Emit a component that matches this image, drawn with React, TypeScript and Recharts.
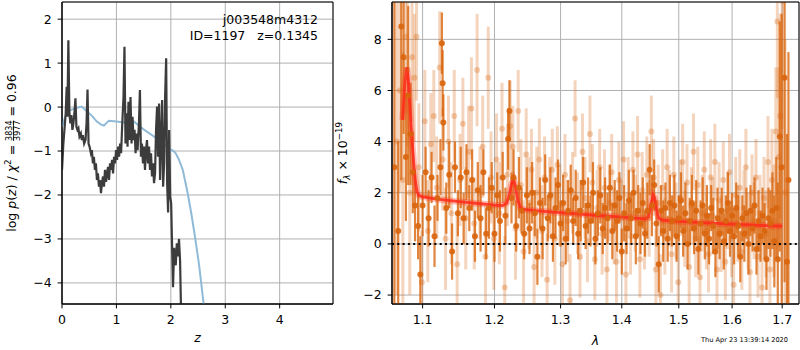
import React from 'react';
import {
  ComposedChart,
  Line,
  Scatter,
  ErrorBar,
  XAxis,
  YAxis,
  CartesianGrid,
  ReferenceLine,
  ReferenceArea,
} from 'recharts';

const FONT = '"DejaVu Sans", sans-serif';

// left panel: log p(z) curves, [z, value]
const pzCurve: [number, number][] = [
  [0.0, -1.43], [0.025, -0.83], [0.049, -0.45], [0.068, -0.14], [0.086, 0.46], [0.099, -0.22],
  [0.117, 1.52], [0.136, -0.14], [0.154, -0.37], [0.173, -0.18], [0.191, -0.52], [0.21, -0.37],
  [0.228, -0.14], [0.247, 0.2], [0.265, -0.45], [0.284, -0.52], [0.302, -0.48], [0.321, -0.67],
  [0.346, -0.6], [0.364, -0.75], [0.383, -0.64], [0.407, -0.83], [0.432, -0.75], [0.451, -0.37],
  [0.469, 0.4], [0.488, -0.83], [0.506, -0.9], [0.531, -1.05], [0.549, -0.98], [0.568, -1.28],
  [0.586, -1.13], [0.605, -1.43], [0.623, -1.28], [0.642, -1.66], [0.66, -1.51], [0.679, -1.81],
  [0.698, -1.66], [0.716, -1.96], [0.735, -1.73], [0.753, -1.58], [0.772, -1.81], [0.79, -1.43],
  [0.809, -1.7], [0.827, -1.51], [0.846, -1.36], [0.864, -1.66], [0.883, -1.28], [0.901, -1.43],
  [0.92, -1.2], [0.938, -1.51], [0.957, -1.13], [0.975, -1.28], [0.994, -0.98], [1.012, -1.2],
  [1.031, -0.9], [1.049, -1.13], [1.068, -0.83], [1.086, -1.05], [1.105, -0.45], [1.13, 0.23],
  [1.148, 1.37], [1.167, -0.83], [1.185, -0.14], [1.204, -0.9], [1.222, 0.12], [1.241, -0.75],
  [1.259, 0.23], [1.278, -0.83], [1.296, -0.22], [1.315, -0.75], [1.333, -0.52], [1.352, -1.05],
  [1.37, -0.6], [1.389, -0.98], [1.414, -0.37], [1.432, 0.39], [1.451, -1.13], [1.469, -0.83],
  [1.488, -1.28], [1.506, -0.9], [1.525, -1.43], [1.543, -0.98], [1.562, -0.75], [1.58, -1.28],
  [1.599, -0.9], [1.617, -1.43], [1.636, -1.05], [1.654, -1.58], [1.673, -1.28], [1.691, -1.73],
  [1.71, -1.51], [1.728, -0.52], [1.747, 0.01], [1.765, -1.13], [1.784, 0.08], [1.802, -1.66],
  [1.821, -0.75], [1.84, 0.16], [1.858, -1.81], [1.877, -1.28], [1.895, 0.23], [1.914, 1.11],
  [1.932, -1.73], [1.95, -2.4], [1.969, -0.52], [1.988, -2.04], [2.006, -2.19], [2.02, -3.0],
  [2.04, -4.1], [2.06, -3.2], [2.09, -3.6], [2.11, -3.1], [2.13, -3.4], [2.15, -3.0],
  [2.17, -3.5], [2.19, -4.8], [2.21, -5.5],
];

const pzPrior: [number, number][] = [
  [0.0, -0.45], [0.05, -0.25], [0.1, -0.12], [0.15, -0.07], [0.25, -0.03], [0.36, 0.01],
  [0.46, -0.1], [0.55, -0.2], [0.64, -0.33], [0.72, -0.4], [0.77, -0.42], [0.82, -0.36],
  [0.86, -0.31], [1.0, -0.33], [1.14, -0.35], [1.22, -0.31], [1.29, -0.3], [1.36, -0.37],
  [1.44, -0.45], [1.56, -0.56], [1.69, -0.67], [1.8, -0.78], [1.88, -0.86], [1.98, -0.95],
  [2.05, -1.0], [2.09, -1.05], [2.15, -1.2], [2.22, -1.43], [2.31, -1.96], [2.38, -2.45],
  [2.45, -3.0], [2.52, -3.6], [2.6, -4.45], [2.65, -5.0],
];

const zTicks = [0, 1, 2, 3, 4];
const pzTicks = [-4, -3, -2, -1, 0, 1, 2];

// right panel: spectrum points [lambda, flux, err]
const darkPoints: [number, number, number][] = [
  [1.063, 3.0, 6.5], [1.068, 0.5, 3.5], [1.072, 8.5, 6], [1.075, 7.3, 3], [1.078, 3.4, 2.5],
  [1.081, 5.8, 3.5], [1.084, 4.3, 2], [1.087, 2.8, 1.6], [1.09, 1.5, 1.4], [1.094, 0.7, 1.3],
  [1.097, -1.2, 1.5], [1.1, 1.5, 1.2], [1.104, 2.8, 1.0], [1.108, 1.0, 1.1], [1.112, 2.6, 1.0],
  [1.116, 0.3, 1.2], [1.12, 1.8, 0.9], [1.124, 3.0, 1.1], [1.126, 7.85, 1.2], [1.127, 6.28, 1.3],
  [1.128, 4.75, 1.1], [1.132, 1.4, 1.0], [1.136, 2.7, 1.3], [1.14, -0.3, 1.1], [1.144, 3.0, 1.0],
  [1.148, 1.2, 0.9], [1.152, 2.6, 1.2], [1.156, 1.0, 1.0], [1.16, 2.8, 1.1], [1.164, 1.4, 0.9],
  [1.168, 2.5, 1.2], [1.172, 0.3, 1.0], [1.176, 2.1, 1.1], [1.18, 1.0, 1.3], [1.184, 2.8, 0.9],
  [1.188, 0.4, 1.0], [1.192, 1.4, 1.2], [1.196, 2.2, 1.0], [1.2, 0.4, 1.1], [1.204, 1.9, 0.9],
  [1.208, 0.9, 1.2], [1.212, 2.6, 1.0], [1.216, 1.1, 1.1], [1.22, 4.1, 1.2], [1.222, 5.2, 1.2],
  [1.225, 1.8, 1.0], [1.228, 2.6, 1.1], [1.232, 0.7, 1.0], [1.236, 2.2, 1.2], [1.24, 1.3, 0.9],
  [1.244, 0.4, 1.0], [1.248, 1.9, 1.1], [1.252, 0.6, 1.0], [1.256, 2.0, 1.2], [1.26, 1.2, 0.9],
  [1.264, -0.5, 1.1], [1.268, 1.6, 1.0], [1.272, 0.6, 1.2], [1.276, 2.5, 1.0], [1.28, 1.0, 0.9],
  [1.284, 1.9, 1.1], [1.288, 0.3, 1.0], [1.292, 1.4, 1.2], [1.296, 2.3, 1.0], [1.3, 0.8, 0.9],
  [1.304, 1.6, 1.1], [1.308, 0.2, 1.0], [1.312, 1.3, 1.2], [1.316, 2.1, 1.0], [1.32, 0.9, 0.9],
  [1.324, 1.8, 1.1], [1.328, 0.4, 1.0], [1.332, 1.3, 1.2], [1.336, 2.4, 1.0], [1.34, 0.7, 0.9],
  [1.344, 1.5, 1.1], [1.348, 0.9, 1.0], [1.352, 2.0, 1.2], [1.356, 0.2, 1.0], [1.36, 1.2, 0.9],
  [1.364, 1.9, 1.1], [1.368, 0.6, 1.0], [1.372, 1.4, 1.2], [1.376, 1.0, 1.0], [1.38, 2.2, 0.9],
  [1.384, 0.5, 1.1], [1.388, 1.5, 1.0], [1.392, 0.9, 1.2], [1.396, 1.8, 1.0], [1.4, -0.3, 0.9],
  [1.404, 1.2, 1.1], [1.408, 0.6, 1.0], [1.412, 1.7, 1.2], [1.416, 1.0, 1.0], [1.42, 2.0, 0.9],
  [1.424, 0.3, 1.1], [1.428, 1.3, 1.0], [1.432, 0.8, 1.2], [1.436, 1.6, 1.0], [1.44, 0.4, 0.9],
  [1.444, 1.3, 1.1], [1.448, 2.9, 1.0], [1.452, 1.5, 1.2], [1.456, 2.3, 1.0], [1.46, 0.8, 0.9],
  [1.464, -0.8, 1.1], [1.468, 1.3, 1.0], [1.472, 0.5, 1.2], [1.476, 1.4, 1.0], [1.48, 0.2, 0.9],
  [1.484, 1.6, 1.1], [1.488, 0.9, 1.0], [1.492, 1.5, 1.2], [1.496, 0.3, 1.0], [1.5, 1.0, 0.9],
  [1.504, 1.7, 1.1], [1.508, 0.5, 1.0], [1.512, 1.2, 1.2], [1.516, 0.0, 1.0], [1.52, 0.9, 0.9],
  [1.524, 1.6, 1.1], [1.528, 0.6, 1.0], [1.532, 1.3, 1.2], [1.536, -0.2, 1.0], [1.54, 0.8, 0.9],
  [1.544, 1.5, 1.1], [1.548, 0.4, 1.0], [1.552, 1.1, 1.2], [1.556, 0.2, 1.0], [1.56, 1.4, 0.9],
  [1.564, 0.7, 1.1], [1.568, -0.3, 1.0], [1.572, 1.0, 1.2], [1.576, 0.4, 1.0], [1.58, 1.3, 0.9],
  [1.584, 0.1, 1.1], [1.588, 0.9, 1.0], [1.592, 1.6, 1.2], [1.596, 0.5, 1.0], [1.6, 1.1, 0.9],
  [1.604, 0.3, 1.1], [1.608, 1.4, 1.0], [1.612, 0.7, 1.2], [1.616, -0.5, 1.0], [1.62, 1.0, 0.9],
  [1.624, 0.4, 1.1], [1.628, 1.2, 1.0], [1.632, 0.0, 1.2], [1.636, 1.3, 1.0], [1.64, 0.6, 0.9],
  [1.644, 1.5, 1.1], [1.648, -0.2, 1.0], [1.652, 0.9, 1.2], [1.656, 0.3, 1.0], [1.66, 1.1, 1.1],
  [1.664, 0.5, 1.1], [1.668, -0.6, 1.2], [1.672, 1.0, 1.2], [1.676, 0.8, 1.3], [1.68, 1.3, 1.5],
  [1.684, 0.1, 1.8], [1.688, 1.4, 2.0], [1.691, -0.6, 3.0], [1.695, 4.2, 4.5], [1.699, 3.0, 6.0],
  [1.705, 6.5, 8.0], [1.71, -0.7, 5.0], [1.713, 2.5, 5.0],
];

const lightPoints: [number, number, number][] = [
  [1.066, 4.0, 6], [1.07, 6.0, 4], [1.074, 2.5, 5], [1.078, 8.1, 3], [1.08, 6.8, 3],
  [1.083, 2.0, 4], [1.086, 7.3, 2.5], [1.089, 6.5, 2.5], [1.092, 8.1, 2.5], [1.095, 3.0, 2.5],
  [1.099, -1.5, 2], [1.103, 4.8, 2], [1.107, 0.5, 2], [1.111, 3.9, 2], [1.115, 5.0, 1.8],
  [1.119, 2.2, 2], [1.123, 6.9, 2.2], [1.127, 3.3, 2], [1.131, 0.2, 2], [1.135, 4.0, 1.8],
  [1.139, 1.2, 2], [1.143, 5.0, 1.8], [1.147, -0.8, 2], [1.151, 2.5, 1.8], [1.155, 4.7, 1.8],
  [1.159, 1.0, 2], [1.163, 3.6, 1.8], [1.167, 5.3, 2], [1.171, 0.8, 1.8], [1.175, 6.8, 2.2],
  [1.179, 2.0, 1.8], [1.183, 3.8, 2], [1.187, -0.5, 2], [1.191, 6.5, 2], [1.195, 2.6, 1.8],
  [1.199, 0.2, 2], [1.203, 3.3, 1.8], [1.207, 1.2, 2], [1.211, 4.5, 1.8], [1.215, -1.7, 2],
  [1.219, 2.7, 2], [1.223, 4.6, 1.8], [1.227, 3.8, 1.6], [1.231, 0.6, 2], [1.235, 5.2, 1.6],
  [1.239, 2.3, 1.8], [1.243, -0.3, 2], [1.247, 3.5, 1.8], [1.251, 1.6, 1.8], [1.255, 2.9, 1.6],
  [1.259, -0.9, 1.8], [1.263, 2.0, 1.8], [1.267, 3.3, 1.6], [1.271, 0.5, 1.8], [1.275, 2.6, 1.6],
  [1.279, -1.4, 1.8], [1.283, 1.8, 1.6], [1.287, 2.9, 1.6], [1.291, 0.2, 1.8], [1.295, 3.1, 1.5],
  [1.299, 1.5, 1.6], [1.303, -0.8, 1.8], [1.307, 2.7, 1.6], [1.311, 0.9, 1.6], [1.315, -2.2, 1.8],
  [1.319, 2.0, 1.6], [1.323, 4.9, 1.5], [1.327, 1.2, 1.6], [1.331, -0.5, 1.6], [1.335, 3.6, 1.5],
  [1.339, 1.8, 1.6], [1.343, 0.1, 1.6], [1.347, 4.3, 1.5], [1.351, 2.4, 1.5], [1.355, -0.6, 1.6],
  [1.359, 1.4, 1.5], [1.363, 3.0, 1.5], [1.367, 0.4, 1.6], [1.371, 2.2, 1.5], [1.375, -1.0, 1.6],
  [1.379, 1.6, 1.5], [1.383, 2.8, 1.5], [1.387, 0.7, 1.5], [1.391, -0.7, 1.6], [1.395, 2.5, 1.5],
  [1.399, 1.0, 1.5], [1.403, 3.3, 1.5], [1.407, -1.2, 1.6], [1.411, 1.9, 1.5], [1.415, 0.3, 1.5],
  [1.419, 2.9, 1.5], [1.423, 1.2, 1.5], [1.427, 3.5, 1.5], [1.431, -0.6, 1.5], [1.435, 2.1, 1.5],
  [1.439, 0.5, 1.5], [1.443, 2.7, 1.5], [1.447, 1.0, 1.5], [1.451, 4.4, 1.4], [1.455, 2.6, 1.5],
  [1.459, -1.0, 1.6], [1.463, 1.6, 1.5], [1.467, -2.0, 1.6], [1.471, 2.2, 1.5], [1.475, 0.3, 1.5],
  [1.479, 3.0, 1.5], [1.483, 1.4, 1.5], [1.487, -0.4, 1.5], [1.491, 2.7, 1.5], [1.495, 0.9, 1.5],
  [1.499, -1.5, 1.6], [1.503, 1.8, 1.5], [1.507, 3.2, 1.5], [1.511, 0.6, 1.5], [1.515, 2.4, 1.5],
  [1.519, -0.9, 1.5], [1.523, 1.5, 1.5], [1.527, 3.6, 1.5], [1.531, 0.2, 1.5], [1.535, 2.3, 1.5],
  [1.539, -1.3, 1.6], [1.543, 1.2, 1.5], [1.547, 2.9, 1.5], [1.551, 0.5, 1.5], [1.555, -0.4, 1.5],
  [1.559, 2.6, 1.5], [1.563, 1.1, 1.5], [1.567, 3.2, 1.5], [1.571, -1.0, 1.6], [1.575, 1.7, 1.5],
  [1.579, 0.4, 1.5], [1.583, 2.5, 1.5], [1.587, -0.7, 1.5], [1.591, 1.3, 1.5], [1.595, 2.8, 1.5],
  [1.599, 0.2, 1.5], [1.603, -1.6, 1.6], [1.607, 1.9, 1.5], [1.611, 0.8, 1.5], [1.615, 2.2, 1.5],
  [1.619, -0.3, 1.5], [1.623, 1.4, 1.5], [1.627, 3.0, 1.5], [1.631, 0.5, 1.5], [1.635, -1.1, 1.6],
  [1.639, 2.0, 1.5], [1.643, 0.9, 1.5], [1.647, 2.6, 1.5], [1.651, -0.5, 1.6], [1.655, 1.2, 1.5],
  [1.659, -1.7, 1.7], [1.663, 1.8, 1.6], [1.667, 0.4, 1.7], [1.671, 3.2, 1.8], [1.675, -1.0, 1.8],
  [1.679, 2.5, 2.0], [1.683, 0.9, 2.2], [1.687, 4.4, 2.5], [1.69, 8.7, 3], [1.693, 3.4, 3.5],
  [1.696, 5.0, 4], [1.7, 9.5, 5], [1.706, 2.0, 6],
];

// model spectrum [lambda, flux]
const modelSpec: [number, number][] = [
  [1.0737, 4.85], [1.0765, 6.2], [1.079, 6.9], [1.081, 6.5], [1.0835, 5.3], [1.086, 4.05],
  [1.0885, 3.1], [1.0905, 2.45], [1.0925, 2.05], [1.095, 1.9], [1.1, 1.84], [1.12, 1.75],
  [1.14, 1.68], [1.16, 1.62], [1.18, 1.57], [1.2, 1.52], [1.212, 1.5], [1.218, 1.6],
  [1.222, 1.95], [1.225, 2.35], [1.228, 2.5], [1.231, 2.25], [1.234, 1.75], [1.238, 1.42],
  [1.243, 1.35], [1.26, 1.3], [1.3, 1.22], [1.35, 1.13], [1.4, 1.05], [1.44, 0.98],
  [1.446, 1.05], [1.45, 1.5], [1.454, 1.9], [1.457, 1.8], [1.46, 1.35], [1.464, 1.0],
  [1.47, 0.93], [1.5, 0.88], [1.55, 0.82], [1.6, 0.77], [1.65, 0.73], [1.7, 0.69],
];

const lamTicks = [1.1, 1.2, 1.3, 1.4, 1.5, 1.6, 1.7];
const fluxTicks = [-2, 0, 2, 4, 6, 8];

const Z_DOMAIN: [number, number] = [0, 4.98];
const PZ_DOMAIN: [number, number] = [-4.48, 2.39];
const LAM_DOMAIN: [number, number] = [1.06, 1.735];
const FLUX_DOMAIN: [number, number] = [-2.35, 9.46];

const ORANGE = '#d9650d';
const tickStyle = { fill: '#000', fontSize: 12.5, fontFamily: FONT };
const minus = (s: string) => s.replace('-', '\u2212');

const curveData = pzCurve.map(([z, v]) => ({ z, v }));
const priorData = pzPrior.map(([z, v]) => ({ z, v }));
const darkData = darkPoints.map(([lam, f, e]) => ({ lam, f, e }));
const lightData = lightPoints.map(([lam, f, e]) => ({ lam, f, e }));
const modelData = modelSpec.map(([lam, f]) => ({ lam, f }));

const dot = (fill: string, opacity: number) => (props: any) => (
  <circle cx={props.cx} cy={props.cy} r={3} fill={fill} fillOpacity={opacity} />
);

// spectrum frame chart sits at x=330, 470 wide; its plot box is 62..469 x 2..304
const SPEC_LEFT = 330;
const SPEC_W = 470;
const SPEC_YAXIS = 62;
const PLOT_TOP = 2;
const PLOT_H = 302;

export default function App() {
  return (
    <div style={{ position: 'absolute', left: 0, top: 0, width: 800, height: 350, background: '#fff' }}>
      {/* left: redshift probability */}
      <div style={{ position: 'absolute', left: 0, top: 0 }}>
        <ComposedChart width={340} height={350} margin={{ top: 2, right: 7, bottom: 0, left: 0 }}>
          <CartesianGrid stroke="#b0b0b0" strokeWidth={1} />
          <XAxis
            dataKey="z"
            type="number"
            domain={Z_DOMAIN}
            ticks={zTicks}
            allowDataOverflow
            height={46}
            tick={tickStyle}
            tickSize={4.4}
            tickMargin={7}
            tickLine={{ stroke: '#000' }}
            axisLine={{ stroke: '#000' }}
          />
          <YAxis
            type="number"
            domain={PZ_DOMAIN}
            ticks={pzTicks}
            allowDataOverflow
            width={62}
            tick={tickStyle}
            tickSize={4.4}
            tickMargin={6}
            tickFormatter={(v) => minus(String(v))}
            tickLine={{ stroke: '#000' }}
            axisLine={{ stroke: '#000' }}
          />
          <Line data={priorData} dataKey="v" type="linear" stroke="#8fbbd9" strokeWidth={2}
            dot={false} isAnimationActive={false} />
          <Line data={curveData} dataKey="v" type="linear" stroke="#3c3c3c" strokeWidth={2.2}
            dot={false} isAnimationActive={false} />
          <ReferenceArea x1={Z_DOMAIN[0]} x2={Z_DOMAIN[1]} y1={PZ_DOMAIN[0]} y2={PZ_DOMAIN[1]}
            fill="none" stroke="#000" strokeWidth={1} ifOverflow="visible" />
          <text x={318} y={24} textAnchor="end" fontFamily={FONT} fontSize={12.5} fill="#000">
            j003548m4312
          </text>
          <text x={318} y={39.5} textAnchor="end" fontFamily={FONT} fontSize={12.5} fill="#000"
            style={{ whiteSpace: 'pre' }}>
            {'ID=1197   z=0.1345'}
          </text>
          <text x={197.5} y={342} textAnchor="middle" fontFamily={FONT} fontSize={12.5}
            fontStyle="italic" fill="#000">z</text>
          <text transform="translate(15.5,153) rotate(-90)" textAnchor="middle" fontFamily={FONT}
            fontSize={12.5} fill="#000">
            <tspan>log </tspan>
            <tspan fontStyle="italic">p</tspan>
            <tspan>(</tspan>
            <tspan fontStyle="italic">z</tspan>
            <tspan>) / </tspan>
            <tspan fontStyle="italic">χ</tspan>
            <tspan fontSize={8.75} dy={-5}>2</tspan>
            <tspan dy={5}> = </tspan>
            <tspan fontSize={8} dy={-3.5} style={{ textDecoration: 'underline' }}>3834</tspan>
            <tspan fontSize={8} dx={-20.35} dy={7.7}>3977</tspan>
            <tspan dy={-4.2}> = 0.96</tspan>
          </text>
        </ComposedChart>
      </div>

      {/* right: spectrum frame, grid, ticks and labels */}
      <div style={{ position: 'absolute', left: SPEC_LEFT, top: 0 }}>
        <ComposedChart width={SPEC_W} height={350} margin={{ top: PLOT_TOP, right: 1, bottom: 0, left: 0 }}>
          <CartesianGrid stroke="#b0b0b0" strokeWidth={1} />
          <XAxis
            dataKey="lam"
            type="number"
            scale="log"
            domain={LAM_DOMAIN}
            ticks={lamTicks}
            allowDataOverflow
            height={46}
            tick={tickStyle}
            tickSize={4.4}
            tickMargin={7}
            tickFormatter={(v) => Number(v).toFixed(1)}
            tickLine={{ stroke: '#000' }}
            axisLine={{ stroke: '#000' }}
          />
          <YAxis
            dataKey="f"
            type="number"
            domain={FLUX_DOMAIN}
            ticks={fluxTicks}
            allowDataOverflow
            width={SPEC_YAXIS}
            tick={tickStyle}
            tickSize={4.4}
            tickMargin={6}
            tickFormatter={(v) => minus(String(v))}
            tickLine={{ stroke: '#000' }}
            axisLine={{ stroke: '#000' }}
          />
          <text x={265.5} y={345} textAnchor="middle" fontFamily={FONT} fontSize={12.5}
            fontStyle="italic" fill="#000">λ</text>
          <text transform="translate(17,153) rotate(-90)" textAnchor="middle" fontFamily={FONT}
            fontSize={12.5} fill="#000">
            <tspan fontStyle="italic">f</tspan>
            <tspan fontSize={8.75} dy={2.5} fontStyle="italic">λ</tspan>
            <tspan dy={-2.5}> × 10</tspan>
            <tspan fontSize={8.75} dy={-5}>−19</tspan>
          </text>
          <text x={458} y={342} textAnchor="end" fontFamily={FONT} fontSize={6.6} fill="#000">
            Thu Apr 23 13:39:14 2020
          </text>
        </ComposedChart>
      </div>

      {/* right: spectrum data, drawn in a box the size of the plot so it is clipped */}
      <div
        style={{
          position: 'absolute',
          left: SPEC_LEFT + SPEC_YAXIS,
          top: PLOT_TOP,
          width: SPEC_W - SPEC_YAXIS - 1,
          height: PLOT_H,
          overflow: 'hidden',
        }}
      >
        <ComposedChart width={SPEC_W - SPEC_YAXIS - 1} height={PLOT_H} margin={{ top: 0, right: 0, bottom: 0, left: 0 }}>
          <XAxis dataKey="lam" type="number" scale="log" domain={LAM_DOMAIN} allowDataOverflow hide />
          <YAxis dataKey="f" type="number" domain={FLUX_DOMAIN} allowDataOverflow hide />
          <Scatter data={lightData} dataKey="f" shape={dot(ORANGE, 0.3)} isAnimationActive={false}>
            <ErrorBar dataKey="e" direction="y" width={0} stroke="rgba(217,101,13,0.28)" strokeWidth={3} />
          </Scatter>
          <Scatter data={darkData} dataKey="f" shape={dot(ORANGE, 0.9)} isAnimationActive={false}>
            <ErrorBar dataKey="e" direction="y" width={0} stroke="rgba(217,101,13,0.8)" strokeWidth={2.2} />
          </Scatter>
          <Line data={modelData} dataKey="f" type="linear" stroke="#ff2a1a" strokeOpacity={0.3}
            strokeWidth={6.5} dot={false} isAnimationActive={false} />
          <Line data={modelData} dataKey="f" type="linear" stroke="#ff2a1a" strokeOpacity={0.85}
            strokeWidth={2.8} dot={false} isAnimationActive={false} />
          <ReferenceLine y={0} stroke="#000" strokeWidth={2} strokeDasharray="2 3.3" />
        </ComposedChart>
      </div>

      {/* frame of the spectrum plot, on top of the data */}
      <div style={{ position: 'absolute', left: SPEC_LEFT, top: 0, pointerEvents: 'none' }}>
        <ComposedChart width={SPEC_W} height={350} margin={{ top: PLOT_TOP, right: 1, bottom: 0, left: 0 }}>
          <XAxis dataKey="lam" type="number" scale="log" domain={LAM_DOMAIN} allowDataOverflow
            height={46} tick={false} tickLine={false} axisLine={false} />
          <YAxis dataKey="f" type="number" domain={FLUX_DOMAIN} allowDataOverflow
            width={SPEC_YAXIS} tick={false} tickLine={false} axisLine={false} />
          <ReferenceArea x1={LAM_DOMAIN[0]} x2={LAM_DOMAIN[1]} y1={FLUX_DOMAIN[0]} y2={FLUX_DOMAIN[1]}
            fill="none" stroke="#000" strokeWidth={1} ifOverflow="visible" />
        </ComposedChart>
      </div>
    </div>
  );
}
